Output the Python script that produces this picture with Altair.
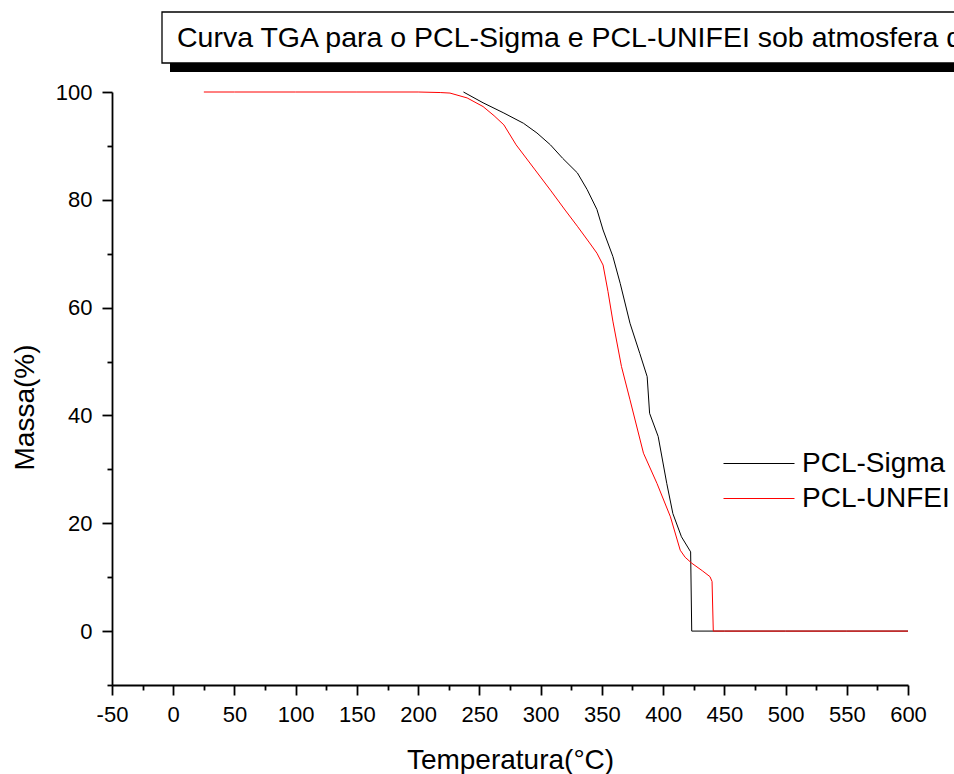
import altair as alt
import pandas as pd

FONT = "Liberation Sans, Arial, Helvetica, sans-serif"

title_text = "Curva TGA para o PCL-Sigma e PCL-UNIFEI sob atmosfera de"
x_title = "Temperatura(°C)"
y_title = "Massa(%)"
series_names = ["PCL-Sigma", "PCL-UNFEI"]
series_colors = ["#000000", "#ff0000"]

sigma_t = [237, 253, 270, 286, 297, 308, 318, 330, 338, 346, 351, 359, 365, 373,
           381, 387, 389, 396, 403, 408, 415, 422.5, 423.4, 450, 500, 550, 600]
sigma_m = [100, 98, 96.1, 94.2, 92.4, 90.2, 87.7, 85, 81.9, 78.2, 74.4, 69.5, 64.5, 57.1,
           51.5, 47.2, 40.4, 36.1, 27.4, 21.8, 17.5, 14.7, 0, 0, 0, 0, 0]

unfei_t = [25, 50, 100, 150, 200, 218, 226, 240, 253, 262, 270, 280, 295, 308, 320, 330,
           340, 346, 351, 355, 359, 366, 373, 384, 395, 406, 414, 418, 423.4, 432, 438.3,
           440, 441, 450, 500, 550, 600]
unfei_m = [100, 100, 100, 100, 100, 99.9, 99.8, 98.9, 97.3, 95.6, 93.9, 90.2, 85.7, 81.8,
           78.1, 75.1, 72.0, 70.1, 67.9, 63, 57.5, 49.1, 42.9, 33.0, 27.4, 21.2, 15.0, 13.7,
           12.6, 11.2, 10.1, 9.2, 0, 0, 0, 0, 0]

x_ticks = list(range(-50, 601, 25))
y_ticks = list(range(-10, 101, 10))

rows = []
for name, ts, ms in [(series_names[0], sigma_t, sigma_m), (series_names[1], unfei_t, unfei_m)]:
    for i, (t, m) in enumerate(zip(ts, ms)):
        rows.append({"serie": name, "T": t, "M": m, "i": i})
df = pd.DataFrame(rows)
one = pd.DataFrame({"a": [0]})

x_axis = alt.Axis(
    values=x_ticks,
    labelExpr="datum.value % 50 === 0 ? '' + datum.value : ''",
    labelOverlap=False, labelFlush=False,
    tickSize={"condition": {"test": "datum.value % 50 === 0", "value": 10}, "value": 5},
    tickWidth=1.8, tickColor="black",
    domainWidth=1.8, domainColor="black",
    labelFont=FONT, labelFontSize=22, labelColor="black", labelPadding=9,
    grid=False,
    title=x_title, titleFont=FONT, titleFontSize=28, titleFontWeight="normal",
    titleColor="black", titleBaseline="alphabetic", titleY=83,
)
y_axis = alt.Axis(
    values=y_ticks,
    labelExpr="datum.value % 20 === 0 ? '' + datum.value : ''",
    labelOverlap=False, labelFlush=False,
    tickSize={"condition": {"test": "datum.value % 20 === 0", "value": 10}, "value": 5},
    tickWidth=1.8, tickColor="black",
    domainWidth=1.8, domainColor="black",
    labelFont=FONT, labelFontSize=22, labelColor="black", labelPadding=10,
    grid=False,
    title=y_title, titleFont=FONT, titleFontSize=28, titleFontWeight="normal",
    titleColor="black", titleBaseline="alphabetic", titleAngle=270,
    titleX=-79, titleY=315, titleAlign="center",
)

lines = alt.Chart(df).mark_line(strokeWidth=1, interpolate="linear").encode(
    x=alt.X("T:Q", scale=alt.Scale(domain=[-50, 600], nice=False, zero=False), axis=x_axis),
    y=alt.Y("M:Q", scale=alt.Scale(domain=[-10, 100], nice=False, zero=False), axis=y_axis),
    color=alt.Color(
        "serie:N",
        scale=alt.Scale(domain=series_names, range=series_colors),
        legend=alt.Legend(
            title=None, orient="none", legendX=611, legendY=354,
            symbolType="stroke", symbolSize=5041, symbolStrokeWidth=1,
            clipHeight=35, rowPadding=0,
            labelFont=FONT, labelFontSize=28, labelColor="black",
            labelOffset=7, labelLimit=400, padding=0,
        ),
    ),
    order="i:Q",
)

shadow = alt.Chart(one).mark_rect(color="black").encode(
    x=alt.value(58), x2=alt.value(1000), y=alt.value(-71), y2=alt.value(-20)
)
box = alt.Chart(one).mark_rect(fill="white", stroke="black", strokeWidth=1.3).encode(
    x=alt.value(50), x2=alt.value(1000), y=alt.value(-80), y2=alt.value(-29)
)
title = alt.Chart(one).mark_text(
    text=title_text, align="left", baseline="alphabetic", font=FONT, fontSize=28.5, color="black"
).encode(x=alt.value(65), y=alt.value(-45))

chart = alt.layer(shadow, box, title, lines).properties(
    width=796, height=593,
    background="white",
    autosize=alt.AutoSizeParams(type="none"),
    padding={"left": 112, "top": 92, "right": 46, "bottom": 89},
).configure_view(stroke=None, strokeWidth=0)

chart.save("out.html", embed_options={"renderer": "svg", "actions": False})
